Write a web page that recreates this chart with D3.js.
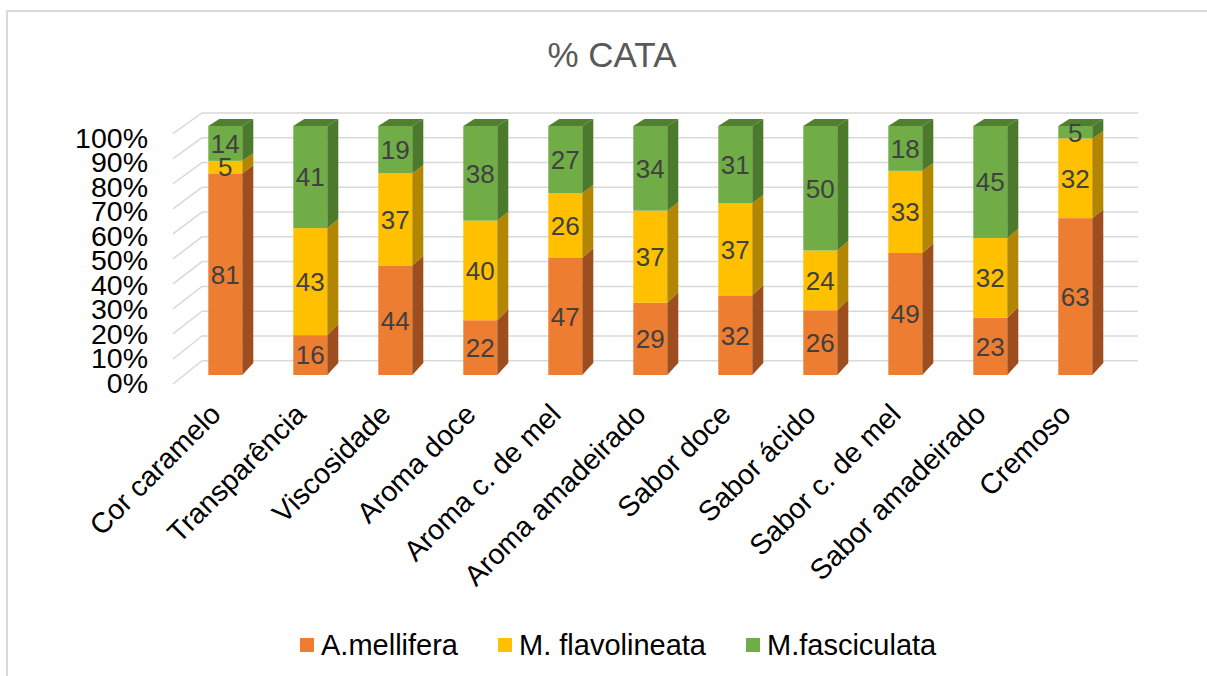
<!DOCTYPE html>
<html><head><meta charset="utf-8">
<script src="https://cdn.jsdelivr.net/npm/d3@7"></script>
<style>body{margin:0;background:#fff}svg{display:block}text{font-family:"Liberation Sans",Arial,sans-serif}</style>
</head><body>
<svg id="c" width="1207" height="676"></svg>
<script>
const categories = ["Cor caramelo","Transparência","Viscosidade","Aroma doce","Aroma c. de mel","Aroma amadeirado","Sabor doce","Sabor ácido","Sabor c. de mel","Sabor amadeirado","Cremoso"];
const seriesNames = ["A.mellifera","M. flavolineata","M.fasciculata"];
const mellifera =    [81,16,44,22,47,29,32,26,49,23,63];
const flavolineata = [5,43,37,40,26,37,37,24,33,32,32];
const fasciculata =  [14,41,19,38,27,34,31,50,18,45,5];
const tickValues = [0,10,20,30,40,50,60,70,80,90,100];
const tickLabels = ["0%","10%","20%","30%","40%","50%","60%","70%","80%","90%","100%"];

const frontColors = ["#ED7D31","#FFC000","#70AD47"];
const sideColors  = ["#9E4E1E","#B28600","#4B7A2C"];
const topColors   = ["#B85E22","#C79600","#507F2E"];

const svg = d3.select("#c");
svg.append("path").attr("d","M7,676 L7,11 L1207,11").attr("fill","none").attr("stroke","#d9d9d9").attr("stroke-width",2);

svg.append("text").attr("x",612).attr("y",67).attr("text-anchor","middle")
  .attr("font-size",35).attr("fill","#595959").text("% CATA");

const x = d3.scaleBand().domain(categories).range([182.8,1117.8]).paddingInner(0.6).paddingOuter(0.3);
const yFront = d3.scaleLinear().domain([0,100]).range([375,126]);
const yWallFront = d3.scaleLinear().domain([0,100]).range([384,133.7]);
const yWallBack = d3.scaleLinear().domain([0,100]).range([360.7,113]);
const yTick = d3.scaleLinear().domain([0,100]).range([382,137]);
const wallXf = 173, wallXb = 202, wallXr = 1138;
const depthX = 11;
const depthY = v => -12 + 5*v/100;

const g = svg.append("g").attr("stroke","#d9d9d9").attr("stroke-width",1.5).attr("fill","none");
tickValues.forEach(v=>{
  g.append("path").attr("d",`M${wallXf},${yWallFront(v)} L${wallXb},${yWallBack(v)} L${wallXr},${yWallBack(v)}`);
});

const ax = svg.append("g").attr("transform","translate(148,0)")
  .call(d3.axisLeft(yTick).tickValues(tickValues).tickFormat((d,i)=>tickLabels[i]).tickSize(0).tickPadding(0));
ax.select(".domain").remove();
ax.selectAll("text").attr("font-size",28.5).attr("fill","#000").attr("font-family","Liberation Sans, Arial, sans-serif").attr("dy","0.36em");

const series = [mellifera, flavolineata, fasciculata];
const bars = svg.append("g");
categories.forEach((c,i)=>{
  const x0 = x(c), w = x.bandwidth(), x1 = x0+w;
  let base = 0;
  series.forEach((s,k)=>{
    const v0 = base, v1 = base + s[i];
    base = v1;
    const yb = yFront(v0), yt = yFront(v1);
    bars.append("rect").attr("x",x0).attr("y",yt).attr("width",w).attr("height",yb-yt).attr("fill",frontColors[k]);
    bars.append("path").attr("d",
      `M${x1},${yb} L${x1+depthX},${yb+depthY(v0)} L${x1+depthX},${yt+depthY(v1)} L${x1},${yt} Z`).attr("fill",sideColors[k]);
    if(k===series.length-1){
      bars.append("path").attr("d",
        `M${x0},${yt} L${x1},${yt} L${x1+depthX},${yt+depthY(v1)} L${x0+depthX},${yt+depthY(v1)} Z`).attr("fill",topColors[k]);
    }
  });
  base = 0;
  series.forEach((s,k)=>{
    const v0 = base, v1 = base + s[i]; base = v1;
    bars.append("text").attr("x",x0+w/2).attr("y",(yFront(v0)+yFront(v1))/2).attr("dy","0.36em")
      .attr("text-anchor","middle").attr("font-size",26).attr("fill","#404040").text(s[i]);
  });
});

const cl = svg.append("g");
categories.forEach(c=>{
  const cx = x(c)+x.bandwidth()/2;
  cl.append("text").attr("transform",`translate(${cx-17},${402}) rotate(-45)`)
    .attr("text-anchor","end").attr("dy","0.7em").attr("font-size",28.5).attr("fill","#000").text(c);
});

const legX = [300,498,746];
const lg = svg.append("g");
seriesNames.forEach((n,k)=>{
  lg.append("rect").attr("x",legX[k]).attr("y",638).attr("width",14).attr("height",14).attr("fill",frontColors[k]);
  lg.append("text").attr("x",legX[k]+21).attr("y",645).attr("dy","0.36em").attr("font-size",29).attr("fill","#000").text(n);
});
</script>
</body></html>
